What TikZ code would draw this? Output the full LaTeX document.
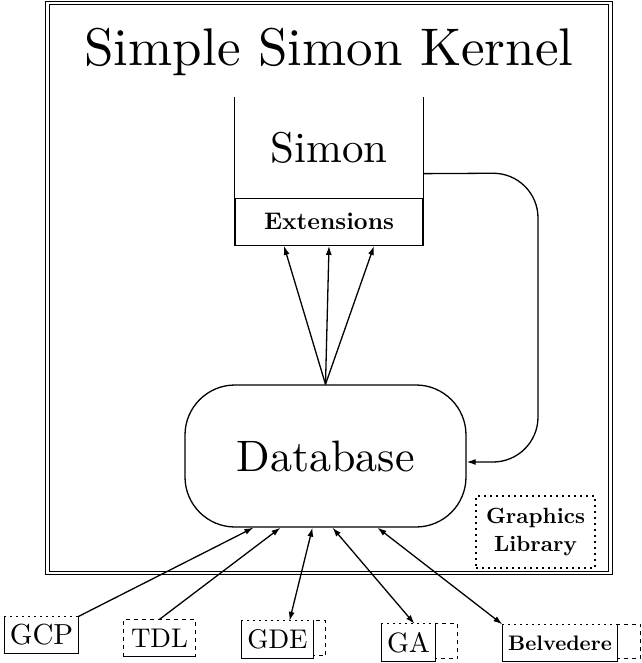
\documentclass[tikz,border=0pt]{standalone}
\usepackage{fontspec}
\setmainfont{lmroman10}[Extension=.otf, UprightFont=*-regular, BoldFont=*-bold]
\usepackage{tikz}
\usetikzlibrary{arrows.meta}
\usetikzlibrary{calc}

\begin{document}
\begin{tikzpicture}[
    x=1pt, y=-1pt, % un punto por pixel, eje y hacia abajo
    line width=1.3pt,
    flecha/.style={-{Latex[length=9pt,width=6pt]}, line width=1.3pt}, % flecha simple
    doble/.style={{Latex[length=9pt,width=6pt]}-{Latex[length=9pt,width=6pt]}, line width=1.3pt}, % flecha doble
    punteado/.style={line width=1.6pt, dash pattern=on 1.6pt off 4.4pt}, % linea de puntos
    trazos/.style={line width=1.1pt, dash pattern=on 4pt off 4pt}, % linea a trazos
    caja/.style={inner sep=0pt, minimum height=36pt, font=\fontsize{27}{30}\selectfont} % cajas de abajo
]
    \useasboundingbox (0,0) rectangle (641,663);

    % --- Marco doble del kernel ---
    \draw[double, double distance=2.5pt, line width=1.2pt] (47.5,3) rectangle (610.5,573);
    \node[anchor=base, font=\fontsize{53}{60}\selectfont] (titulo) at (329,66) {Simple Simon Kernel};

    % --- Simon y sus extensiones ---
    \node[minimum width=188pt, minimum height=99pt, inner sep=0pt, font=\fontsize{43}{46}\selectfont] (simon) at (329,147.5) {Simon};
    \draw (simon.north west) -- (simon.south west); % lado izquierdo (abierto arriba)
    \draw (simon.north east) -- (simon.south east); % lado derecho
    \node[draw, anchor=north, minimum width=188pt, minimum height=47pt, inner sep=0pt,
          font=\bfseries\fontsize{24}{26}\selectfont] (ext) at (simon.south) {Extensions};

    % --- Base de datos ---
    \node[draw, rounded corners=50pt, minimum width=281pt, minimum height=142pt,
          font=\fontsize{44}{46}\selectfont] (db) at (325.5,456) {Database};

    % Flechas hacia las extensiones
    \foreach \dx in {-45,0,45}
        \draw[flecha] (db.north) -- ([xshift=\dx pt]ext.south);

    % Conexion de Simon a la base de datos
    \coordinate (giro) at (538,173);
    \draw[flecha, rounded corners=45pt] ($(simon.south east)+(0,-24)$) -- (giro) -- (giro |- 0,462) -- (db.east |- 0,462);

    % --- Biblioteca grafica ---
    \node[draw, punteado, minimum width=119pt, minimum height=72pt, align=center, inner sep=0pt,
          font=\bfseries\fontsize{22}{28}\selectfont] (gl) at (535.5,532) {Graphics\\Library};

    % --- Herramientas de abajo ---
    \node[caja, minimum width=73pt, font=\fontsize{29}{30}\selectfont] (gcp) at (41.5,635) {GCP};
    \node[caja, minimum width=71pt] (tdl) at (159.5,638) {TDL};
    \node[caja, minimum width=71pt] (gde) at (277.5,639.5) {GDE};
    \node[caja, minimum width=53pt, font=\fontsize{28}{30}\selectfont] (ga) at (408.5,642.5) {GA};
    \node[caja, minimum width=114pt, font=\bfseries\fontsize{21}{24}\selectfont] (belv) at (560,643) {Belvedere};

    % Bordes: solidos con tapa punteada
    \foreach \n in {gcp,gde,ga,belv} {
        \draw (\n.north west) -- (\n.south west) -- (\n.south east) -- (\n.north east);
        \draw[punteado, line width=1pt] (\n.north west) -- (\n.north east);
    }
    \draw[trazos] (tdl.south west) -- (tdl.north west) -- (tdl.north east) -- (tdl.south east);
    \draw (tdl.south west) -- (tdl.south east);

    % Cajas a trazos al lado
    \draw[trazos] (gde.north east) rectangle ++(12,35);
    \draw[trazos] (ga.north east) rectangle ++(22,35);
    \draw[trazos] (belv.north east) rectangle ++(23,34);

    % Flechas hacia la base de datos
    \draw[flecha] (gcp.north east) -- ([xshift=-72pt]db.south);
    \draw[flecha] (tdl.north) -- ([xshift=-45pt]db.south);
    \draw[doble] ([xshift=12pt]gde.north) -- ([xshift=-13pt]db.south);
    \draw[doble] ([xshift=6pt]ga.north) -- ([xshift=7pt]db.south);
    \draw[doble] (belv.north west) -- ([xshift=52pt]db.south);

\end{tikzpicture}
\end{document}
